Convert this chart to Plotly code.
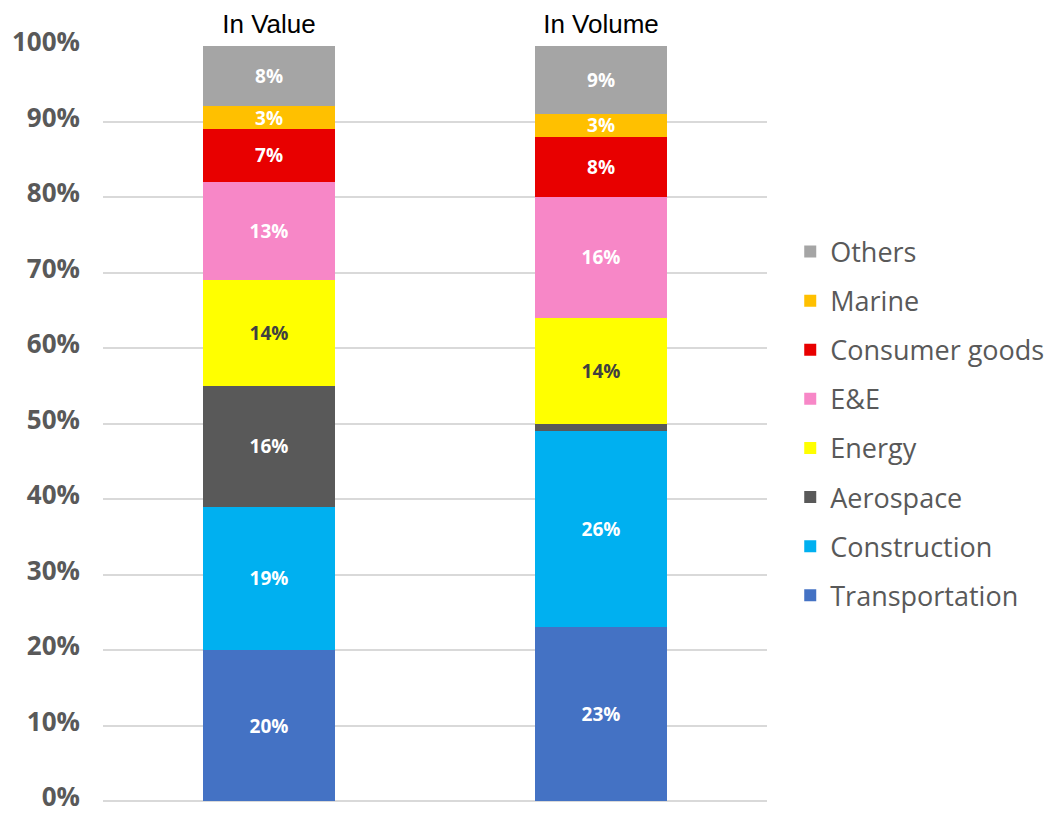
import plotly.graph_objects as go

categories = ["In Value", "In Volume"]
series_names = ["Transportation", "Construction", "Aerospace", "Energy",
                "E&E", "Consumer goods", "Marine", "Others"]
transportation = [20, 23]
construction = [19, 26]
aerospace = [16, 1]
energy = [14, 14]
ee = [13, 16]
consumer_goods = [7, 8]
marine = [3, 3]
others = [8, 9]
y_ticks = [0, 10, 20, 30, 40, 50, 60, 70, 80, 90, 100]

values = [transportation, construction, aerospace, energy, ee,
          consumer_goods, marine, others]
colors = ["#4472C4", "#00B0F0", "#595959", "#FFFF00", "#F787C7",
          "#E80000", "#FFC000", "#A5A5A5"]
text_colors = ["white", "white", "white", "#404040", "white", "white",
               "white", "white"]

fig = go.Figure()
n = len(series_names)
for i, (name, vals, col, tcol) in enumerate(zip(series_names, values, colors, text_colors)):
    labels = [f"{v}%" if v >= 3 else "" for v in vals]
    fig.add_trace(go.Bar(
        x=categories, y=vals, name=name, legendgroup=name,
        legendrank=n - i,
        marker=dict(color=col, line=dict(width=0)),
        text=labels, textposition="inside", insidetextanchor="middle",
        textfont=dict(family="Open Sans", size=19, color=tcol, weight="bold"),
        textangle=0, hoverinfo="skip",
    ))

# The page places the figure 8px from the top-left corner,
# so the figure is sized and offset to fill the visible 1063x815 window.
fig.update_layout(
    barmode="stack", bargap=0.6,
    width=1055, height=807,
    margin=dict(l=95, r=296, t=38, b=14, autoexpand=False),
    plot_bgcolor="white", paper_bgcolor="white",
    uniformtext=dict(minsize=19, mode="show"),
    legend=dict(
        traceorder="grouped", tracegroupgap=11,
        x=1.035, xanchor="left", y=0.5, yanchor="middle",
        font=dict(family="Open Sans", size=27, color="#595959"),
        itemwidth=30,
    ),
    xaxis=dict(
        side="top", showgrid=False, showline=False, ticks="",
        automargin=False,
        tickfont=dict(family="Liberation Sans", size=26, color="black"),
        ticklabelstandoff=7,
    ),
    yaxis=dict(
        range=[0, 100], tickvals=y_ticks,
        ticktext=[f"{t}%" for t in y_ticks],
        automargin=False, ticklabeloverflow="allow", ticklabelshift=-4,
        showgrid=True, gridcolor="#D9D9D9", gridwidth=1.5,
        zeroline=True, zerolinecolor="#D9D9D9", zerolinewidth=1.5,
        showline=False, ticks="",
        tickfont=dict(family="Open Sans", size=26, color="#595959", weight="bold"),
        ticklabelstandoff=22,
    ),
)

fig.write_html("out.html")
